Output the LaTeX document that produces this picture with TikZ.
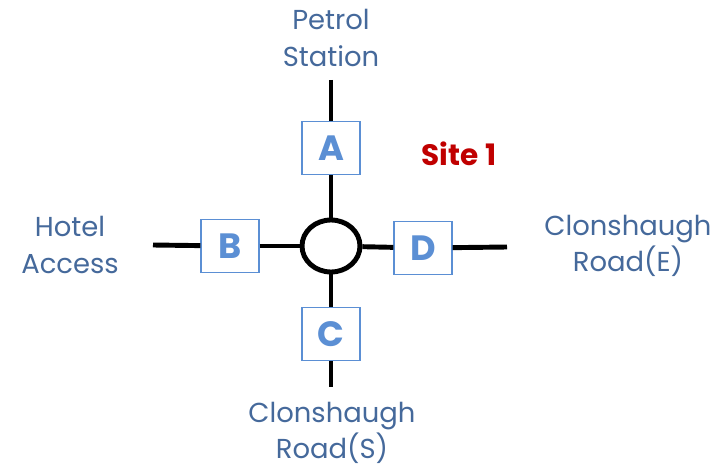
\documentclass[tikz,border=0pt]{standalone}
\usepackage{fontspec}
\setmainfont{Poppins}
\usetikzlibrary{shapes.geometric}

\definecolor{labelblue}{HTML}{45699B}
\definecolor{boxblue}{HTML}{5B8FD4}
\definecolor{sitered}{HTML}{C00000}

\begin{document}
\begin{tikzpicture}[x=0.025cm,y=-0.025cm,
    road/.style={line width=3.5pt},
    approach/.style={draw=boxblue, line width=1pt, fill=white, text=boxblue,
        minimum width=58*0.025cm, minimum height=53*0.025cm, inner sep=0pt,
        font=\fontsize{25}{28}\selectfont\bfseries},
    junction/.style={draw, ellipse, line width=3.5pt, fill=white,
        minimum width=58*0.025cm, minimum height=52*0.025cm, inner sep=0pt},
    armlabel/.style={text=labelblue, align=center,
        font=\fontsize{19.5}{25.8}\selectfont}]
            \useasboundingbox (0,0) rectangle (717,473);

            %road ends
            \coordinate (N) at (331,80);
            \coordinate (S) at (331,387);
            \coordinate (W) at (153,245);
            \coordinate (E) at (507,247);

            %junction and approaches
            \node[junction] (J) at (331,246) {};
            \node[approach] (A) at (331,148) {A};
            \node[approach] (B) at (230,246) {B};
            \node[approach] (C) at (331,334) {C};
            \node[approach] (D) at (423,248) {D};

            %roads
            \draw[road] (N) -- (A);
            \draw[road] (A) -- (J);
            \draw[road] (J) -- (C);
            \draw[road] (C) -- (S);
            \draw[road] (W) -- (B);
            \draw[road] (B) -- (J);
            \draw[road] (J) -- (D);
            \draw[road] (D) -- (E);

            %labels
            \node[armlabel] (north) at (331,38) {Petrol\\Station};
            \node[armlabel] (west) at (70,245) {Hotel\\Access};
            \node[armlabel] (east) at (628,246) {Clonshaugh\\Road(E)};
            \node[armlabel] (south) at (332,433) {Clonshaugh\\Road(S)};
            \node[text=sitered, font=\fontsize{21}{24}\selectfont\bfseries] (site) at (459,154) {Site 1};
        \end{tikzpicture}
\end{document}
